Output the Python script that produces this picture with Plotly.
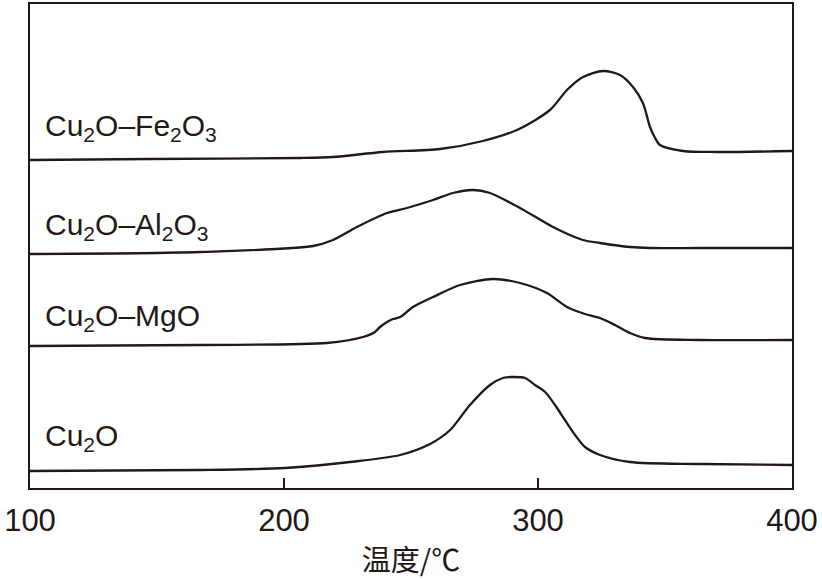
import plotly.graph_objects as go

# temperature (°C) and stacked signal (a.u., offset per sample)
t_cu2o = [100, 166.9, 200.4, 226.0, 245.7, 257.5, 265.4, 273.2, 281.1, 286.2, 289.8,
          294.9, 298.8, 302.8, 306.7, 310.6, 314.6, 318.5, 324.4, 336.2, 363.8, 400]
y_cu2o = [17, 18, 20, 26, 33, 44, 58, 83, 103, 110, 111,
          110, 103, 96, 83, 68, 53, 41, 33, 26, 24, 23]

t_mgo = [100, 166.9, 216.9, 231.1, 235.8, 237.8, 240.6, 242.9, 245.7, 250.8, 258.7,
         269.3, 282.3, 292.9, 303.5, 311.4, 318.5, 324.4, 330.3, 336.2, 342.1, 363.8, 400]
y_mgo = [142, 143, 145, 151, 156, 161, 166, 169, 171, 181, 191,
         203, 209, 205, 195, 181, 174, 170, 163, 155, 150, 148, 148]

t_al = [100, 166.9, 211.4, 219.3, 228.7, 240.6, 248.4, 258.7, 266.5, 274.4,
        281.1, 292.9, 305.9, 317.7, 324.4, 336.2, 344.1, 363.8, 400]
y_al = [234, 236, 242, 248, 261, 275, 280, 288, 295, 298,
        295, 280, 261, 248, 245, 241, 240, 240, 240]

t_fe = [100, 147.2, 206.3, 219.3, 239.0, 261.4, 278.3, 291.7, 304.7, 311.4, 317.7,
        325.6, 332.3, 337.4, 341.3, 344.1, 346.1, 348.0, 357.1, 370.5, 400]
y_fe = [328, 329, 330, 331, 336, 339, 347, 358, 378, 398, 411,
        417, 413, 401, 385, 361, 350, 343, 337, 336, 337]

labels = ["Cu<sub>2</sub>O\u2013Fe<sub>2</sub>O<sub>3</sub>",
          "Cu<sub>2</sub>O\u2013Al<sub>2</sub>O<sub>3</sub>",
          "Cu<sub>2</sub>O\u2013MgO",
          "Cu<sub>2</sub>O"]
label_y = [361, 262, 171, 51]

INK = "#231815"

fig = go.Figure()
for t, y in [(t_cu2o, y_cu2o), (t_mgo, y_mgo), (t_al, y_al), (t_fe, y_fe)]:
    fig.add_trace(go.Scatter(x=t, y=y, mode="lines",
                             line=dict(color=INK, width=2.3, shape="spline", smoothing=0.8),
                             showlegend=False, hoverinfo="skip"))

for txt, yy in zip(labels, label_y):
    fig.add_annotation(x=105, y=yy, text=txt, showarrow=False,
                       xanchor="left", yanchor="middle",
                       font=dict(family="Liberation Sans", size=30, color=INK))

fig.update_xaxes(range=[100, 400], tickvals=[100, 200, 300, 400],
                 ticks="inside", ticklen=10, tickwidth=2, tickcolor=INK,
                 showline=True, mirror=True, linewidth=2, linecolor=INK,
                 showgrid=False, zeroline=False, automargin=False,
                 ticklabelstandoff=4,
                 tickfont=dict(family="Liberation Sans", size=31, color=INK),
                 title=dict(text="温度/℃", standoff=30,
                            font=dict(family="Noto Sans CJK SC", size=29, color=INK)))
fig.update_yaxes(range=[0, 484], showticklabels=False, ticks="",
                 showline=True, mirror=True, linewidth=2, linecolor=INK,
                 showgrid=False, zeroline=False, automargin=False)

fig.update_layout(width=822, height=579, margin=dict(l=30, r=30, t=4, b=91),
                  plot_bgcolor="white", paper_bgcolor="white")

# drop the page's default body margin so the figure sits at the window corner
fig.write_html("out.html", config={"displayModeBar": False},
               post_script="document.body.style.margin='0px';")
